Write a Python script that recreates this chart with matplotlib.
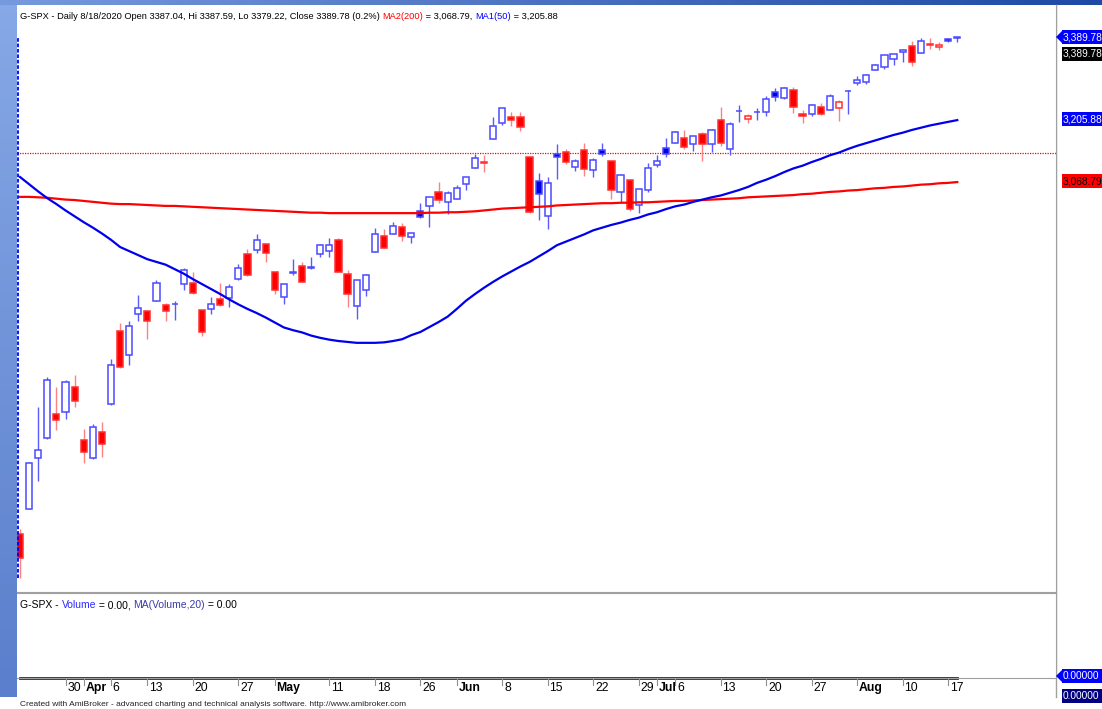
import numpy as np
import matplotlib
matplotlib.use("Agg")
import matplotlib.pyplot as plt
import matplotlib.transforms as mtransforms
from matplotlib.colors import LinearSegmentedColormap
from matplotlib.patches import Rectangle, Polygon

plt.rcParams['font.family'] = ['Liberation Sans Narrow', 'Liberation Sans', 'DejaVu Sans']

# G-SPX daily bars, 2020-03-23 .. 2020-08-18
opens = [2290.71, 2344.44, 2457.77, 2501.29, 2555.87, 2558.98, 2614.69,
         2498.08, 2458.54, 2514.92, 2578.28, 2738.65, 2685.00, 2776.99,
         2782.46, 2805.10, 2795.64, 2799.34, 2842.43,
         2845.62, 2784.81, 2787.89, 2810.42, 2812.64,
         2854.65, 2909.96, 2918.46, 2930.91,
         2869.09, 2815.01, 2868.88, 2883.14, 2878.26, 2908.83,
         2915.46, 2939.50, 2865.86, 2794.54, 2829.95,
         2913.86, 2948.59, 2953.63, 2969.95, 2948.05,
         3004.08, 3015.65, 3046.61, 3025.17,
         3031.71, 3064.78, 3098.90, 3111.56, 3163.84,
         3199.92, 3213.32, 3213.42, 3123.53, 3071.04,
         2993.76, 3131.00, 3136.13, 3101.64, 3140.29,
         3094.42, 3138.70, 3114.40, 3046.60, 3073.20,
         3018.59, 3050.20,
         3105.92, 3143.64,
         3155.29, 3166.44, 3153.07, 3176.17, 3152.47,
         3205.08, 3141.11, 3225.98, 3208.36, 3224.21,
         3224.29, 3268.52, 3254.86, 3271.64, 3218.58,
         3219.84, 3234.27, 3227.22, 3231.76, 3270.45,
         3288.26, 3289.92, 3317.37, 3323.17, 3340.05,
         3356.04, 3370.34, 3355.46, 3372.95, 3368.66,
         3384.50, 3387.04]
highs = [2300.73, 2449.71, 2571.42, 2637.01, 2615.91, 2631.80, 2641.39,
         2522.75, 2533.22, 2538.18, 2676.85, 2756.89, 2760.75, 2818.57,
         2782.46, 2851.85, 2801.88, 2806.51, 2879.22,
         2868.98, 2785.54, 2815.10, 2844.90, 2842.71,
         2887.72, 2921.15, 2954.86, 2930.91,
         2869.09, 2844.24, 2898.23, 2891.11, 2901.92, 2932.16,
         2944.25, 2945.82, 2874.14, 2852.80, 2865.01,
         2968.09, 2964.21, 2980.29, 2978.50, 2956.76,
         3021.72, 3036.25, 3068.67, 3049.17,
         3062.18, 3081.07, 3130.94, 3128.91, 3211.72,
         3233.13, 3222.71, 3223.27, 3123.53, 3088.42,
         3079.76, 3153.45, 3141.16, 3120.00, 3155.53,
         3120.92, 3154.90, 3115.01, 3086.25, 3073.73,
         3053.89, 3111.51,
         3128.44, 3165.81,
         3182.59, 3184.15, 3171.80, 3179.78, 3186.82,
         3235.32, 3200.95, 3238.28, 3220.39, 3233.52,
         3258.61, 3277.29, 3279.32, 3279.99, 3227.26,
         3241.43, 3243.72, 3264.74, 3250.92, 3272.17,
         3302.73, 3306.84, 3330.77, 3351.03, 3352.54,
         3363.29, 3381.01, 3387.89, 3387.24, 3378.51,
         3387.59, 3387.59]
lows = [2191.86, 2344.44, 2407.53, 2500.72, 2520.02, 2545.28, 2571.15,
        2447.49, 2455.79, 2459.96, 2574.57, 2657.67, 2663.30, 2762.36,
        2721.17, 2805.10, 2761.54, 2764.32, 2830.88,
        2820.43, 2727.10, 2775.95, 2794.26, 2791.76,
        2852.89, 2860.71, 2912.16, 2892.47,
        2821.61, 2797.85, 2863.55, 2847.65, 2876.48, 2902.88,
        2903.44, 2869.59, 2793.15, 2766.64, 2816.78,
        2913.86, 2922.35, 2953.63, 2938.57, 2933.59,
        2988.17, 2969.75, 3023.40, 2998.61,
        3031.71, 3051.64, 3098.90, 3090.41, 3163.84,
        3196.00, 3193.11, 3181.49, 2999.49, 2984.47,
        2965.66, 3076.06, 3108.03, 3093.51, 3083.11,
        3079.39, 3127.12, 3032.13, 3024.01, 3004.63,
        2999.74, 3047.83,
        3101.17, 3124.52,
        3155.29, 3142.93, 3136.53, 3115.70, 3136.22,
        3149.43, 3127.66, 3200.76, 3198.59, 3205.65,
        3215.16, 3247.77, 3253.10, 3222.66, 3200.05,
        3214.25, 3216.17, 3227.22, 3204.13, 3220.26,
        3284.53, 3286.37, 3317.37, 3318.14, 3328.72,
        3335.44, 3326.44, 3355.46, 3363.35, 3361.64,
        3379.22, 3379.22]
closes = [2237.40, 2447.33, 2475.56, 2630.07, 2541.47, 2626.65, 2584.59,
          2470.50, 2526.90, 2488.65, 2663.68, 2659.41, 2749.98, 2789.82,
          2761.63, 2846.06, 2783.36, 2799.55, 2874.56,
          2823.16, 2736.56, 2799.31, 2797.80, 2836.74,
          2878.48, 2863.39, 2939.51, 2912.43,
          2830.71, 2842.74, 2868.44, 2848.42, 2881.19, 2929.80,
          2930.32, 2870.12, 2820.00, 2852.50, 2863.70,
          2953.91, 2922.94, 2971.61, 2948.51, 2955.45,
          2991.77, 3036.13, 3029.73, 3044.31,
          3055.73, 3080.82, 3122.87, 3112.35, 3193.93,
          3232.39, 3207.18, 3190.14, 3002.10, 3041.31,
          3066.59, 3124.74, 3113.49, 3115.34, 3097.74,
          3117.86, 3131.29, 3050.33, 3083.76, 3009.05,
          3053.24, 3100.29,
          3115.86, 3130.01,
          3179.72, 3145.32, 3169.94, 3152.05, 3185.04,
          3155.22, 3197.52, 3226.56, 3215.57, 3224.73,
          3251.84, 3257.30, 3276.02, 3235.66, 3215.63,
          3239.41, 3218.44, 3258.44, 3246.22, 3271.12,
          3294.61, 3306.51, 3327.77, 3349.16, 3351.28,
          3360.47, 3333.69, 3380.35, 3373.43, 3372.85,
          3381.99, 3389.78]
prev_close = 2304.92  # close of 2020-03-20

ma50 = [3080, 3064, 3048, 3033, 3020, 3006, 2993, 2980, 2968, 2955,
        2941, 2925, 2916, 2907, 2898, 2892, 2886, 2876, 2866, 2854,
        2843, 2832, 2821, 2809, 2798, 2788, 2779, 2769, 2758, 2747,
        2741, 2736, 2729, 2724, 2720, 2717, 2715, 2713, 2713, 2713,
        2714, 2717, 2721, 2730, 2737, 2748, 2759, 2771, 2788, 2806,
        2821, 2835, 2848, 2860, 2871, 2882, 2892, 2904, 2916, 2929,
        2937, 2945, 2953, 2962, 2968, 2974, 2979, 2985, 2990, 2997,
        3002, 3009, 3015, 3019, 3025, 3030, 3035, 3039, 3045, 3051,
        3058, 3067, 3074, 3082, 3091, 3099, 3105, 3113, 3120, 3128,
        3134, 3142, 3149, 3155, 3161, 3167, 3173, 3178, 3184, 3189,
        3194, 3198, 3202, 3205.88]
ma200 = [3036, 3036, 3035, 3034, 3032, 3030, 3029, 3027, 3025, 3023,
         3021, 3020, 3020, 3019, 3018, 3017, 3016, 3016, 3015, 3014,
         3013, 3012, 3011, 3010, 3009, 3008, 3007, 3006, 3005, 3004,
         3003, 3002, 3001, 3001, 3000, 3000, 3000, 3000, 3000, 3000,
         3000, 3000, 3000, 3000, 3000, 3001, 3001, 3002, 3002, 3003,
         3004, 3006, 3008, 3010, 3011, 3012, 3013, 3014, 3015, 3017,
         3018, 3019, 3020, 3021, 3022, 3022, 3023, 3023, 3024, 3024,
         3025, 3026, 3027, 3027, 3028, 3029, 3030, 3031, 3032, 3033,
         3035, 3036, 3037, 3038, 3039, 3040, 3042, 3043, 3045, 3047,
         3048, 3050, 3051, 3053, 3055, 3056, 3058, 3059, 3061, 3063,
         3064, 3066, 3067, 3068.79]
level = 3133.0  # dotted horizontal line

# x axis labels: (bar index, text, month?)
date_ticks = [(5, '30', False), (7, 'Apr', True), (10, '6', False), (14, '13', False),
              (19, '20', False), (24, '27', False), (28, 'May', True), (34, '11', False),
              (39, '18', False), (44, '26', False), (48, 'Jun', True), (53, '8', False),
              (58, '15', False), (63, '22', False), (68, '29', False), (70, 'Jul', True),
              (72, '6', False), (77, '13', False), (82, '20', False), (87, '27', False),
              (92, 'Aug', True), (97, '10', False), (102, '17', False)]

opens = np.array(opens); highs = np.array(highs)
lows = np.array(lows); closes = np.array(closes)
n = len(closes)
idx = np.arange(n)

W, H = 1102, 709
fig = plt.figure(figsize=(W / 100, H / 100), dpi=100)


def frame(x0, y0, x1, y1):
    return [x0 / W, 1 - y1 / H, (x1 - x0) / W, (y1 - y0) / H]


def pixel_axes(z):
    a = fig.add_axes([0, 0, 1, 1], zorder=z)
    a.set_xlim(0, W)
    a.set_ylim(H, 0)
    a.axis('off')
    a.patch.set_alpha(0)
    return a


# background in pixel coordinates
bg = pixel_axes(-5)
left_cmap = LinearSegmentedColormap.from_list('l', ['#86a8e6', '#5b7fcc'])
top_cmap = LinearSegmentedColormap.from_list('t', ['#7799dd', '#1e4aa5'])
bg.imshow(np.linspace(0, 1, 50).reshape(-1, 1), extent=(0, 17, 697, 0), aspect='auto', cmap=left_cmap)
bg.imshow(np.linspace(0, 1, 200).reshape(1, -1), extent=(0, W, 5, 0), aspect='auto', cmap=top_cmap)
bg.set_xlim(0, W)
bg.set_ylim(H, 0)
bg.plot([1056, 1056], [5, 697], color='#a0a0a0', lw=1)

# price panel
ax = fig.add_axes(frame(17, 5, 1056, 592))
ax.set_xlim(-0.33, 113.85)
ax.set_ylim(2161.6, 3460.6)
ax.set_xticks([])
ax.set_yticks([])
for s in ['top', 'left']:
    ax.spines[s].set_visible(False)
for s in ['right', 'bottom']:
    ax.spines[s].set_color('#a0a0a0')

ax.axhline(level, color='#ff0000', ls=(0, (1, 1)), lw=0.9, zorder=1)

prev = np.r_[prev_close, closes[:-1]]
for i in range(n):
    o, h, l, c = opens[i], highs[i], lows[i], closes[i]
    if c >= prev[i]:
        wick, edge, fill = '#5a5aff', '#4a4aff', '#0000e6'
    else:
        wick, edge, fill = '#ff8080', '#ff3030', '#ff0000'
    ax.vlines(i, min(l, o, c), max(h, o, c), color=wick, lw=1.0, zorder=2)
    face = fill if c < o else 'white'
    ax.add_patch(Rectangle((i - 0.34, min(o, c)), 0.68, abs(c - o),
                           facecolor=face, edgecolor=edge, lw=1.1, zorder=3))

ax.plot(idx, ma200, color='#ff0000', lw=1.6, zorder=4)
ax.plot(idx, ma50, color='#0000ee', lw=1.6, zorder=4)
ax.vlines(-0.19, lows.min(), max(highs.max(), closes.max()), color='#0000ff',
          ls=(0, (2, 1)), lw=1.3, zorder=5)

# volume panel
ax2 = fig.add_axes(frame(17, 593, 1056, 678))
ax2.set_xlim(-0.33, 113.85)
ax2.set_ylim(0, 1)
ax2.set_xticks([])
ax2.set_yticks([])
ax2.spines['left'].set_visible(False)
for s in ['top', 'right', 'bottom']:
    ax2.spines[s].set_color('#a0a0a0')
ax2.plot(idx, np.zeros(n), color='#1a1a8c', lw=2, clip_on=False)

tr = mtransforms.blended_transform_factory(ax2.transData, ax2.transAxes)
for i, txt, month in date_ticks:
    ax2.plot([i, i], [0, -0.08], transform=tr, color='#909090', lw=0.8, clip_on=False)
    ax2.text(i + 0.2, -0.12, txt, transform=tr, ha='left', va='center', fontsize=8.8,
             fontweight='bold' if month else 'normal', clip_on=False)

# text overlay in pixel coordinates
fg = pixel_axes(10)


def colored(x, y, parts, size):
    t = fg.text(x, y, parts[0][0], color=parts[0][1], fontsize=size, ha='left', va='bottom')
    for s, col in parts[1:]:
        t = fg.annotate(s, xy=(1, 0), xycoords=t, color=col, fontsize=size, ha='left', va='bottom')


colored(20, 21, [('G-SPX - Daily 8/18/2020 Open 3387.04, Hi 3387.59, Lo 3379.22, Close 3389.78 (0.2%) ', 'black'),
                 ('MA2(200)', '#ff0000'), (' = 3,068.79, ', 'black'),
                 ('MA1(50)', '#0000ff'), (' = 3,205.88', 'black')], 6.7)
colored(20, 610, [('G-SPX - ', 'black'), ('Volume', '#2a2aff'), (' = 0.00, ', 'black'),
                  ('MA(Volume,20)', '#3a3aa8'), (' = 0.00', 'black')], 7.5)

fg.text(20, 704, 'Created with AmiBroker - advanced charting and technical analysis software. http://www.amibroker.com',
        fontsize=6.0, color='#222222', ha='left', va='center')


def value_box(yc, txt, fc, tc, arrow=False):
    fg.add_patch(Rectangle((1062, yc - 7), 50, 14, facecolor=fc, edgecolor='none'))
    if arrow:
        fg.add_patch(Polygon([[1056, yc], [1063, yc - 7], [1063, yc + 7]], closed=True,
                             facecolor=fc, edgecolor='none'))
    fg.text(1063, yc, txt, color=tc, fontsize=7.3, ha='left', va='center')


value_box(37, '{:,.2f}'.format(closes[-1]), '#0000ff', 'white', arrow=True)
value_box(54, '{:,.2f}'.format(closes[-1]), '#000000', 'white')
value_box(119, '{:,.2f}'.format(ma50[-1]), '#0000ff', 'white')
value_box(181, '{:,.2f}'.format(ma200[-1]), '#ff0000', 'black')
value_box(676, '0.00000', '#0000ff', 'white', arrow=True)
value_box(696, '0.00000', '#000080', 'white')

fig.savefig('out.png', dpi=100)
